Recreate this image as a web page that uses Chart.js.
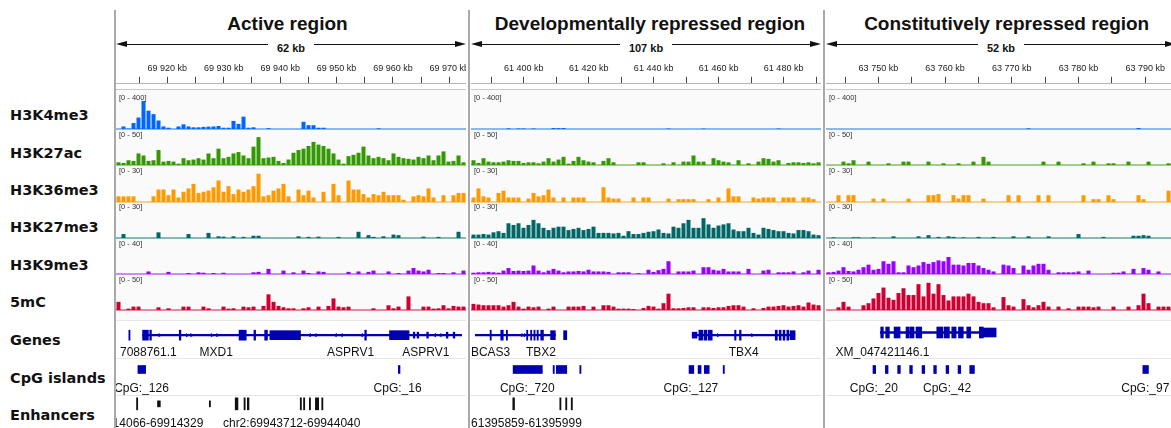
<!DOCTYPE html>
<html>
<head>
<meta charset="utf-8">
<title>Chromatin marks in three regions</title>
<script src="https://cdn.jsdelivr.net/npm/chart.js@4.4.1/dist/chart.umd.min.js"></script>
<style>
  html, body { margin: 0; padding: 0; }
  body { width: 1171px; height: 428px; overflow: hidden; background: #fff; position: relative;
         font-family: "Liberation Sans", Arial, sans-serif; }
  .abs { position: absolute; }
  .track-label { position: absolute; left: 10px; font: bold 14.5px "DejaVu Sans", sans-serif; color: #111;
                 line-height: 18px; white-space: nowrap; }
  .panel { position: absolute; top: 0; height: 428px; overflow: hidden; }
  .sep { position: absolute; top: 10px; width: 2px; height: 418px; background: #a9a9a9; }
  .feat-label { position: absolute; font-size: 12px; line-height: 16px; color: #111; white-space: nowrap;
                transform: translateX(-50%); }
  .range { position: absolute; left: 3px; font-size: 7.5px; line-height: 10px; color: #333; white-space: nowrap; }
</style>
</head>
<body>
<script>
// ---- regions (positions in kb) ----
const regionTitles = ['Active region', 'Developmentally repressed region', 'Constitutively repressed region'];
const regionSpans = ['62 kb', '107 kb', '52 kb'];
const regionStart = [69910.9, 61383.8, 63742.15];
const regionEnd = [69972.95, 61491.5, 63794.6];
const tickStep = [5, 10, 5];
const labelStep = [10, 20, 10];

// ---- signal tracks ----
const trackNames = ['H3K4me3', 'H3K27ac', 'H3K36me3', 'H3K27me3', 'H3K9me3', '5mC'];
const trackMax = [400, 50, 30, 30, 40, 50];

// Active region, 70 bins each
const activeH3K4me3 = [0,30,5,70,135,330,215,175,100,30, 15,0,30,55,30,20,20,25,28,30, 35,15,15,95,60,145,15,20,0,0,
  10,0,0,0,0,0,0,85,45,45, 15,15,0,0,0,0,0,0,0,0, 0,0,8,0,0,0,0,0,0,0, 0,0,0,0,0,0,0,0,0,0];
const activeH3K27ac = [4,3,7,6,17,14,6,7,22,5, 6,5,2,10,7,8,10,8,17,10, 24,10,12,17,19,14,10,27,41,10,
  11,12,6,3,8,18,22,24,28,34, 30,28,24,17,8,2,13,15,18,27, 14,10,12,10,7,17,12,10,9,8, 12,10,14,7,14,20,5,6,14,4];
const activeH3K36me3 = [5,5,5,5,0,0,0,5,11,11, 6,11,4,9,12,16,8,9,10,13, 19,9,14,7,11,9,11,14,25,5,
  6,10,12,16,5,0,11,6,10,4, 0,9,0,16,6,0,19,11,11,7, 4,7,6,9,6,6,6,2,0,5, 6,5,12,4,0,6,0,6,8,8];
const activeH3K27me3 = [0,3.5,0,0,0,0,0,0,5,0, 0,0,0,0,3.5,0,0,0,4.5,0, 1.5,1.2,0,1.5,0,1,0,2,2,0,
  0,0,0,0,0,0,1.5,0,1,0, 1.2,0,0,0,1,0,0,0,5.5,0, 2.5,1,0,1.5,0,3,2.5,0,0,0, 0,1.2,0,0,1,0,0,0,5.5,0];
const activeH3K9me3 = [0,0,0,0,0,0,3,0,0,0, 2.5,0,0,0,1.2,0,2,1.5,0,1.2, 0,1.5,0,0,0,0,0,2,2.5,0,
  6,0,0,4,0,2,0,4,1.2,0, 3,2.5,0,0,0,0,2.5,0,3,0, 2.5,4,0,0,3,0,1.2,0,4,7, 4,3,5,0,1.2,1.2,0,2,0,4];
const active5mC = [12,0,2,5,5,0,0,0,4,0, 2.5,0,0,5,5,0,0,5,2.5,0, 0,5,2,2.5,0,5,4,5,0,6,
  23,12,6,4,2.5,2.5,0,2.5,4,0, 5,0,6,17,5,4,5,0,0,0, 0,2.5,0,0,7,2.5,5,0,20,0, 0,5,5,2,2.5,7,2.5,6,5,5];

// Developmentally repressed region
const devH3K4me3 = [0,0,0,0,0,0,0,8,0,6, 6,0,6,0,0,0,12,10,12,0, 0,0,0,0,0,0,0,0,0,0,
  0,0,0,0,0,0,0,0,0,5, 0,0,0,0,0,0,5,0,0,0, 0,0,0,0,0,0,0,0,0,0, 0,5,0,0,0,0,0,0,0,0];
const devH3K27ac = [7,3,10,5,4,4,5,7,6,6, 3,4,4,2.5,5,10,5,8,12,2, 6,12,7,5,4,0,6,10,4,0,
  0,0,0,4,4,0,0,0,2.5,0, 4,0,5,5,14,5,5,0,10,7, 5,4,0,7,0,2.5,0,5,10,9, 5,7,0,3,4,4,3,4,2.5,4];
const devH3K36me3 = [4,12,5,4,0,8,10,4,4,4, 0,3,8,5,6,11,4,0,4,0, 4,4,4,0,0,0,13,4,3,3,
  0,0,4,0,4,4,0,0,0,3, 0,2.5,2.5,2.5,2.5,0,0,2.5,0,4, 0,12,5,5,0,0,4,3,4,4, 4,0,4,4,4,0,4,4,2.5,0];
const devH3K27me3 = [3,3,3.5,3,5,6,4.5,13,11.5,13, 9,11.5,16,13,9,7,9,10,10,7, 8,9,7,8,10,4.5,4.5,4.5,4,4.5,
  2,6,3.5,3.5,4.5,5.5,6,7.5,4.5,4, 10,9,13,16,9,9,17.5,12,9,11, 12,13,7.5,6,6,9,4.5,3,9,8, 7,6,6,4.5,4,7,7,6,3,2.5];
const devH3K9me3 = [1.5,2,2,2.5,2,1.5,4,7,3.5,4, 3.5,4,10,4,2,4,6,4,2,3, 3,3.5,3,5,3,3,3,2.5,0,2,
  2,2,0,1,0,5,2.5,4.5,6,15, 0,3,3,3,4,0,8,8,5,4, 6,3,3,3,0,6,0,0,4,5, 0,2,2,2,3,0,2,4,0,5];
const dev5mC = [9,8,7,7,7,7,5,7,12,5, 2,5,4,5,0,2,5,0,0,5, 5,5,6,0,5,0,7,7,5,2,
  2,2,1.5,0,3,6,5,2,10,24, 2.5,2.5,3,4,4,0,4,4,3,4, 4,6,7,7,5,0,2.5,0,3,5, 5,6,7,5,6,7,5,11,8,7];

// Constitutively repressed region
const constH3K4me3 = [0,0,0,0,0,0,0,0,0,0, 0,0,0,0,0,0,0,0,0,0, 0,0,0,0,0,0,0,0,0,0,
  0,0,0,0,0,0,0,0,0,0, 8,0,0,0,0,0,0,0,0,0, 0,0,0,0,0,0,0,0,0,0, 0,0,12,0,0,0,0,0,0,0];
const constH3K27ac = [0,0,0,5,2.5,7,0,0,5,0, 0,0,2.5,0,0,5,5,0,0,0, 5,0,0,2.5,0,0,2.5,0,0,5,
  0,12,5,0,0,0,0,0,0,0, 0,0,0,5,0,0,5,0,0,0, 0,2.5,0,5,0,0,2.5,2.5,0,0, 5,0,0,0,5,0,0,0,2.5,0];
const constH3K36me3 = [0,0,6,0,6,6,0,0,0,3, 0,3,0,0,0,0,3,0,0,0, 6,6,7,0,0,6,3,6,6,0,
  0,3,0,0,0,0,6,0,6,0, 0,0,6,0,6,0,0,0,0,0, 0,6,0,2.5,2.5,0,6,2.5,0,0, 0,0,6,2.5,0,0,0,0,10,0];
const constH3K27me3 = [0,0.6,0,0,0,0.6,0.6,0,0,0.6, 0,0,0,1.5,0,0,0,0,1.5,0, 2.5,0,1,0,1.5,1,0,0.6,0,0,
  1,0,0,1,0,0,0,1.5,0,0, 1.5,0,0,0,1.5,0,0,0,0,0, 3.5,0,0,0,0,1,0,0,0,0, 0,2,2,2.5,2,0,0,0,0,0];
const constH3K9me3 = [2,2.5,4,8,3.5,3,5,8,11,5, 6,15,12,15,2,2,10,8,10,14, 12,14,16,15,20,11,11,10,13,13,
  10,7,5,3,0,11,10,7,0,10, 5,10,12,12,5,0,2,2,2,2, 3,0,4,0,0,0,0,1.5,1.5,3, 0,6,0,7,5,0,3,0,0,0];
const const5mC = [0,0,4,12,5,0,0,7,10,17, 25,33,18,15,25,32,22,22,38,20, 40,24,38,22,14,20,20,20,24,20,
  12,10,10,4,0,19,7,5,0,16, 7,4,7,12,5,0,5,0,2.5,0, 5,5,5,4,5,0,0,5,0,0, 5,0,7,24,10,0,5,5,5,0];

// ---- annotation tracks: [start, end] in kb ----
const annotRows = ['Genes', 'CpG islands', 'Enhancers'];

const activeGeneLines = [[69914.99, 69972.95]];
const activeExons = [[69912.5, 69912.72], [69915.0, 69916.05], [69916.3, 69916.6], [69921.65, 69921.95],
  [69932.5, 69933.8], [69935.2, 69935.5], [69937.15, 69937.65], [69955.3, 69955.6]];
const activeUtrs = [[69938.1, 69943.65], [69959.8, 69963.35]];
const activeSmallExons = [[69964.1, 69964.4], [69964.8, 69965.1], [69966.55, 69966.85], [69970.1, 69970.4], [69971.35, 69971.65]];
const activeFwd = [69918.1, 69923.1, 69923.9, 69927.6, 69928.6];
const activeRev = [69945.3, 69946.35, 69950.0, 69951.1, 69954.75, 69968.0, 69969.0];
const activeCpG = [[69914.15, 69915.55], [69961.4, 69961.7]];
const activeEnhTall = [[69913.9, 69914.1], [69931.8, 69932.3], [69933.4, 69933.6], [69934.0, 69934.3], [69943.6, 69943.8],
  [69944.2, 69944.4], [69945.25, 69945.45], [69946.35, 69946.95], [69947.5, 69947.7]];
const activeEnhShort = [[69917.7, 69917.9], [69918.0, 69918.2], [69927.1, 69927.3]];
const activeGeneLabels = [['7088761.1', 69916.04], ['MXD1', 69928.36], ['ASPRV1', 69952.74], ['ASPRV1', 69966.4]];
const activeCpGLabels = [['CpG:_126', 69914.8], ['CpG:_16', 69961.26]];
const activeEnhLabels = [['chr2:69914066-69914329', 69913.56], ['chr2:69943712-69944040', 69942.05]];

const devGeneLines = [[61383.8, 61409.1], [61452.2, 61484.5]];
const devExons = [[61388.55, 61388.9], [61391.9, 61392.7], [61393.65, 61394.0], [61400.05, 61400.4], [61401.3, 61401.65],
  [61402.35, 61402.7], [61403.35, 61403.7], [61404.5, 61405.35], [61454.3, 61455.6], [61456.0, 61456.8], [61457.2, 61458.5],
  [61465.55, 61466.0], [61467.1, 61467.6], [61478.35, 61479.0], [61479.6, 61480.2], [61480.8, 61481.4], [61482.0, 61482.6]];
const devUtrs = [[61407.6, 61409.1], [61411.7, 61412.7], [61483.0, 61484.6]];
const devSmallExons = [[61452.2, 61453.7]];
const devFwd = [61460.4, 61471.2];
const devRev = [61398.35, 61399.2];
const devCpG = [[61395.8, 61405.0], [61408.4, 61408.75], [61409.4, 61412.7], [61416.8, 61417.15], [61451.2, 61452.7],
  [61454.05, 61455.0], [61456.0, 61457.55], [61461.95, 61462.3]];
const devEnhTall = [[61395.7, 61396.25], [61410.5, 61410.85], [61412.35, 61412.7], [61414.1, 61414.45]];
const devEnhShort = [];
const devGeneLabels = [['BCAS3', 61388.72], ['TBX2', 61404.57], ['TBX4', 61468.42]];
const devCpGLabels = [['CpG:_720', 61400.26], ['CpG:_127', 61451.8]];
const devEnhLabels = [['chr2:61395859-61395999', 61395.8]];

const constGeneLines = [[63750.3, 63767.6]];
const constExons = [[63750.35, 63750.74], [63751.1, 63751.64], [63752.35, 63753.25], [63754.14, 63754.64], [63754.74, 63755.34],
  [63755.64, 63756.5], [63758.75, 63759.65], [63759.84, 63760.64], [63761.0, 63761.65], [63762.0, 63762.72],
  [63763.24, 63763.84], [63765.13, 63765.73]];
const constUtrs = [[63765.73, 63767.64]];
const constSmallExons = [];
const constFwd = [];
const constRev = [];
const constCpG = [[63749.19, 63749.59], [63751.05, 63751.45], [63752.89, 63753.29], [63754.69, 63755.09], [63756.54, 63756.94],
  [63758.29, 63758.69], [63760.14, 63760.54], [63761.94, 63762.34], [63763.69, 63764.39], [63789.63, 63790.47]];
const constEnhTall = [];
const constEnhShort = [];
const constGeneLabels = [['XM_047421146.1', 63750.62]];
const constCpGLabels = [['CpG:_20', 63749.32], ['CpG:_42', 63760.29], ['CpG:_97', 63790.0]];
const constEnhLabels = [];

// ---- layout and style ----
const panelLeft = [116, 471, 826];
const panelWidth = 350;
const rulerPad = 23;
const titleCenter = [287.5, 650, 1006.7];
const baselines = [128.5, 165, 201.5, 237.5, 274, 310];
const plotHeight = 34;
const trackColors = ['rgb(0,102,255)', 'rgb(51,153,0)', 'rgb(255,153,0)', 'rgb(0,102,102)', 'rgb(153,0,255)', 'rgb(204,0,51)'];
const baseColors = ['rgba(0,102,255,0.45)', 'rgba(51,153,0,0.45)', 'rgba(255,153,0,0.45)', 'rgba(0,102,102,0.45)',
  'rgba(153,0,255,0.45)', 'rgba(204,0,51,0.45)'];
const leftLabelY = [115, 153, 190, 227, 265, 302, 340, 378, 415];
const annotLabelY = [351.5, 388, 423];
const geneBlue = '#0000b0';

const signals = [
  [activeH3K4me3, activeH3K27ac, activeH3K36me3, activeH3K27me3, activeH3K9me3, active5mC],
  [devH3K4me3, devH3K27ac, devH3K36me3, devH3K27me3, devH3K9me3, dev5mC],
  [constH3K4me3, constH3K27ac, constH3K36me3, constH3K27me3, constH3K9me3, const5mC]
];
const annots = [
  { lines: activeGeneLines, exons: activeExons, utrs: activeUtrs, small: activeSmallExons, fwd: activeFwd, rev: activeRev,
    cpg: activeCpG, enhTall: activeEnhTall, enhShort: activeEnhShort, labels: [activeGeneLabels, activeCpGLabels, activeEnhLabels] },
  { lines: devGeneLines, exons: devExons, utrs: devUtrs, small: devSmallExons, fwd: devFwd, rev: devRev,
    cpg: devCpG, enhTall: devEnhTall, enhShort: devEnhShort, labels: [devGeneLabels, devCpGLabels, devEnhLabels] },
  { lines: constGeneLines, exons: constExons, utrs: constUtrs, small: constSmallExons, fwd: constFwd, rev: constRev,
    cpg: constCpG, enhTall: constEnhTall, enhShort: constEnhShort, labels: [constGeneLabels, constCpGLabels, constEnhLabels] }
];

Chart.defaults.animation = false;
Chart.defaults.font.family = '"Liberation Sans", Arial, sans-serif';

function makeDiv(parent, cls, style, text) {
  const d = document.createElement('div');
  if (cls) d.className = cls;
  Object.assign(d.style, style);
  if (text != null) d.textContent = text;
  parent.appendChild(d);
  return d;
}

function makeCanvas(parent, left, top, w, h) {
  const c = document.createElement('canvas');
  c.width = w;
  c.height = h;
  Object.assign(c.style, { position: 'absolute', left: left + 'px', top: top + 'px', width: w + 'px', height: h + 'px' });
  parent.appendChild(c);
  return c;
}

function kbLabel(v) {
  const k = Math.round(v);
  return Math.floor(k / 1000) + ' ' + String(k % 1000).padStart(3, '0') + ' kb';
}

// floating bars for annotation features
function spans(list, row, thick, color) {
  return {
    type: 'bar', indexAxis: 'y', grouped: false,
    data: list.map(([s, e]) => ({ x: [s, e], y: row })),
    backgroundColor: color, barThickness: thick, minBarLength: 1.2, borderWidth: 0
  };
}

// strand chevrons along introns
function chevrons(list, rot) {
  return {
    type: 'scatter',
    data: list.map(v => ({ x: v, y: 'Genes' })),
    pointStyle: 'triangle', rotation: rot, pointRadius: 2.4,
    backgroundColor: geneBlue, borderWidth: 0
  };
}

const noUi = { legend: { display: false }, tooltip: { enabled: false } };

// left track names
trackNames.concat(annotRows).forEach((name, i) => {
  makeDiv(document.body, 'track-label', { top: (leftLabelY[i] - 9) + 'px' }, name);
});

regionTitles.forEach((title, p) => {
  const L = panelLeft[p];
  const panel = makeDiv(document.body, 'panel', { left: L + 'px', width: panelWidth + 'px' });

  // data area background
  makeDiv(panel, 'abs', { left: '0px', top: '89px', width: panelWidth + 'px', height: '231px', background: '#fafafa' });

  // title
  makeDiv(panel, 'abs', {
    left: (titleCenter[p] - L) + 'px', top: '13px', transform: 'translateX(-50%)', whiteSpace: 'nowrap',
    font: 'bold 19px "Liberation Sans", Arial, sans-serif', lineHeight: '22px', color: '#111'
  }, title);

  // span arrow
  makeDiv(panel, 'abs', { left: '4px', width: (panelWidth - 8) + 'px', top: '44px', height: '1px', background: '#111' });
  makeDiv(panel, 'abs', { left: '0px', top: '41px', width: '0', height: '0', borderTop: '3.5px solid transparent',
    borderBottom: '3.5px solid transparent', borderRight: '11px solid #111' });
  makeDiv(panel, 'abs', { left: (panelWidth - 11) + 'px', top: '41px', width: '0', height: '0', borderTop: '3.5px solid transparent',
    borderBottom: '3.5px solid transparent', borderLeft: '11px solid #111' });
  const spanBox = makeDiv(panel, 'abs', { left: '0px', width: panelWidth + 'px', top: '38px', textAlign: 'center' });
  const spanTxt = document.createElement('span');
  Object.assign(spanTxt.style, { background: '#fff', padding: '0 9px', font: 'bold 11px "Liberation Sans", Arial, sans-serif',
    lineHeight: '14px', color: '#111' });
  spanTxt.textContent = regionSpans[p];
  spanBox.appendChild(spanTxt);

  // ruler: a top x axis, a bit wider than the panel so the last label is clipped like the original
  const kbPerPx = (regionEnd[p] - regionStart[p]) / panelWidth;
  const rulerCanvas = makeCanvas(panel, -rulerPad, 60, panelWidth + 2 * rulerPad, 60);
  new Chart(rulerCanvas, {
    type: 'scatter',
    data: { datasets: [] },
    options: {
      responsive: false, events: [], plugins: noUi, layout: { padding: 0 },
      scales: {
        x: {
          type: 'linear', position: 'top', offset: false,
          min: regionStart[p] - rulerPad * kbPerPx, max: regionEnd[p] + rulerPad * kbPerPx,
          ticks: {
            stepSize: tickStep[p], maxTicksLimit: 100, includeBounds: false, autoSkip: false, maxRotation: 0,
            padding: 3, color: '#222', font: { size: 9 },
            callback: v => (v >= regionStart[p] && v <= regionEnd[p] && Math.round(v) % labelStep[p] === 0 ? kbLabel(v) : '')
          },
          grid: { drawOnChartArea: false, drawTicks: true, tickLength: 7, color: '#444', lineWidth: 1 },
          border: { display: true, color: '#b4b4b4', width: 1 }
        },
        y: { display: false }
      }
    }
  });
  makeDiv(panel, 'abs', { left: '0px', top: '89px', width: panelWidth + 'px', height: '1px', background: '#c8c8c8' });

  // signal tracks
  signals[p].forEach((values, t) => {
    const B = baselines[t];
    const cv = makeCanvas(panel, 0, B - plotHeight, panelWidth, plotHeight);
    new Chart(cv, {
      type: 'bar',
      data: {
        labels: values.map((_, i) => i),
        datasets: [{ data: values, backgroundColor: trackColors[t], borderWidth: 0, barPercentage: 0.8, categoryPercentage: 1 }]
      },
      options: {
        responsive: false, events: [], plugins: noUi, layout: { padding: 0 },
        scales: { x: { display: false }, y: { display: false, min: 0, max: trackMax[t] } }
      }
    });
    makeDiv(panel, 'abs', { left: '0px', top: (B - 1) + 'px', width: panelWidth + 'px', height: '2px', background: baseColors[t] });
    makeDiv(panel, 'range', { top: (B - 35.5) + 'px' }, '[0 - ' + trackMax[t] + ']');
  });

  // annotation row separators
  [320, 358, 395].forEach(y => {
    makeDiv(panel, 'abs', { left: '0px', top: y + 'px', width: panelWidth + 'px', height: '1px', background: '#e6e6e6' });
  });

  // genes, CpG islands, enhancers
  const a = annots[p];
  const annCanvas = makeCanvas(panel, 0, 314, panelWidth, 111);
  const annChart = new Chart(annCanvas, {
    type: 'bar',
    data: {
      datasets: [
        spans(a.lines, 'Genes', 1.6, geneBlue),
        chevrons(a.fwd, 90),
        chevrons(a.rev, -90),
        spans(a.small, 'Genes', 6, geneBlue),
        spans(a.utrs, 'Genes', 9, geneBlue),
        spans(a.exons, 'Genes', p === 2 ? 11 : 10, geneBlue),
        spans(a.cpg, 'CpG islands', 8, geneBlue),
        spans(a.enhShort, 'Enhancers', 6, '#111'),
        spans(a.enhTall, 'Enhancers', 12, '#111')
      ]
    },
    options: {
      indexAxis: 'y',
      responsive: false, events: [], plugins: noUi, layout: { padding: 0 },
      scales: {
        x: { type: 'linear', min: regionStart[p], max: regionEnd[p], offset: false, display: false },
        y: { type: 'category', labels: annotRows, display: false, offset: true }
      }
    }
  });

  a.labels.forEach((list, r) => {
    list.forEach(([text, kb]) => {
      const x = annChart.scales.x.getPixelForValue(kb);
      makeDiv(panel, 'feat-label', { left: x + 'px', top: (annotLabelY[r] - 8) + 'px' }, text);
    });
  });
});

// panel separators
[114, 468, 823].forEach(x => makeDiv(document.body, 'sep', { left: x + 'px' }));
</script>
</body>
</html>
